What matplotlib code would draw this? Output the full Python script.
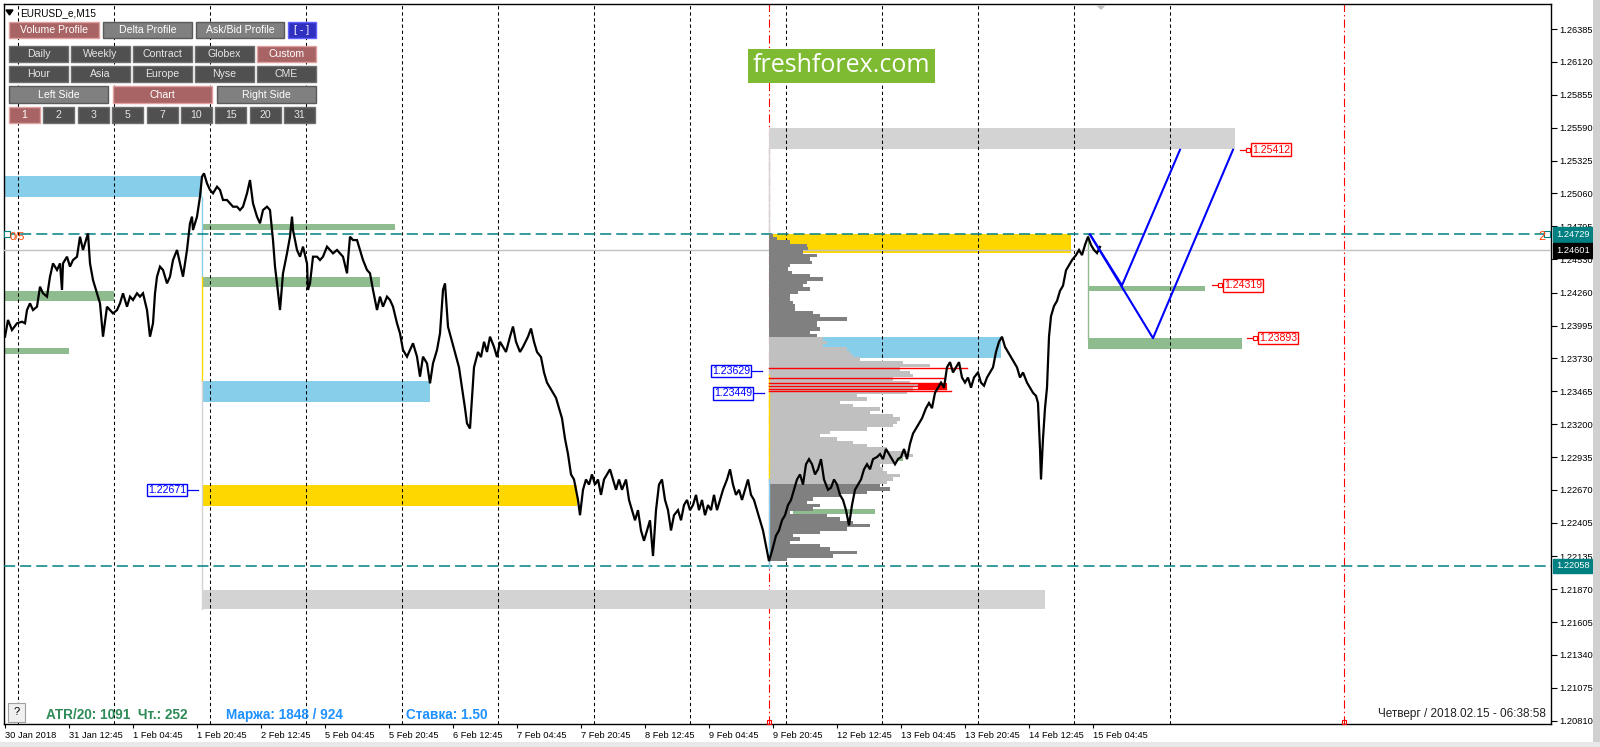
import matplotlib
matplotlib.use("Agg")
import matplotlib.pyplot as plt
import matplotlib.transforms as mtransforms
from matplotlib.patches import Rectangle, Polygon

plt.rcParams['font.family'] = ['Liberation Sans', 'DejaVu Sans']
plt.rcParams['lines.scale_dashes'] = False

# ---------------- data ----------------
symbol = "EURUSD_e,M15"
price_ticks = [1.26385, 1.26120, 1.25855, 1.25590, 1.25325, 1.25060, 1.24795,
               1.24530, 1.24260, 1.23995, 1.23730, 1.23465, 1.23200, 1.22935,
               1.22670, 1.22405, 1.22135, 1.21870, 1.21605, 1.21340, 1.21075, 1.20810]
time_labels = ["30 Jan 2018", "31 Jan 12:45", "1 Feb 04:45", "1 Feb 20:45",
               "2 Feb 12:45", "5 Feb 04:45", "5 Feb 20:45", "6 Feb 12:45",
               "7 Feb 04:45", "7 Feb 20:45", "8 Feb 12:45", "9 Feb 04:45",
               "9 Feb 20:45", "12 Feb 12:45", "13 Feb 04:45", "13 Feb 20:45",
               "14 Feb 12:45", "15 Feb 04:45"]

# close prices (bar index, price)
price_bar = [5, 8, 12, 17, 22, 25, 27, 30, 33, 37, 40, 43, 47, 50, 53, 57, 60, 62, 63, 67,
             70, 73, 77, 80, 83, 88, 90, 93, 97, 100, 103, 107, 110, 113, 117, 120, 123, 127,
             130, 133, 137, 140, 143, 147, 150, 153, 155, 157, 160, 163, 167, 170, 173, 177,
             180, 183, 187, 190, 192, 193, 197, 200, 202, 204, 207, 210, 213, 217, 220, 223,
             227, 230, 233, 237, 240, 243, 247, 250, 253, 257, 260, 263, 267, 270, 273, 275,
             277, 280, 283, 287, 290, 292, 293, 297, 300, 303, 307, 308, 310, 313, 317, 320,
             323, 327, 330, 333, 337, 340, 343, 347, 348, 350, 353, 357, 360, 363, 367, 370,
             373, 377, 380, 383, 387, 390, 393, 397, 400, 403, 407, 410, 413, 417, 420, 423,
             427, 430, 433, 437, 440, 443, 445, 448,
             459, 462, 465, 467, 470, 472, 474, 478, 481, 484, 487, 490, 494, 497, 500, 503,
             506, 510, 513, 516, 520, 523, 528, 531, 534, 537, 541, 544, 547, 550, 553, 556,
             559, 562, 565, 568, 571, 574, 578, 580, 583, 586, 589, 592, 595, 598, 601, 604,
             607, 610, 613, 616, 619, 622, 626, 629, 632, 635, 638, 641, 644, 647, 650, 653,
             656, 659, 662, 665, 668, 671, 674, 678, 681, 684, 687, 690, 693, 696, 699, 702,
             705, 708, 711, 714, 717, 720, 723, 727, 730, 733, 736, 739, 742, 745, 748, 751,
             754, 757, 760, 763, 766, 769, 772, 776, 779, 782, 785, 788, 791, 794, 797, 800,
             803, 806, 809, 812, 815, 818, 821, 824, 828, 831, 834, 837, 840, 843, 846, 849,
             852, 855, 858, 861, 864, 867, 870, 873, 877, 880, 883, 886, 889, 892, 895, 898,
             901, 904, 907, 910, 913, 916, 919, 922, 926, 929, 932, 935, 938, 941, 944, 947,
             950, 953, 956, 959, 962, 965, 968, 971, 974, 978, 981, 984, 987, 990, 993, 996,
             999, 1002, 1005, 1008, 1011, 1014, 1017, 1020, 1023, 1027, 1030, 1033, 1036, 1038,
             1040, 1041, 1043, 1045, 1047, 1049, 1051, 1054, 1057, 1060, 1063, 1066, 1069, 1072,
             1076, 1079, 1082, 1085, 1088, 1091, 1094, 1097, 1100]
price_close = [1.23905, 1.24040, 1.23959, 1.24013, 1.24026, 1.24013, 1.24120, 1.24174, 1.24120,
               1.24147, 1.24308, 1.24255, 1.24228, 1.24389, 1.24496, 1.24443, 1.24496, 1.24282,
               1.24496, 1.24550, 1.24470, 1.24523, 1.24550, 1.24711, 1.24604, 1.24738, 1.24496,
               1.24362, 1.24255, 1.24174, 1.23905, 1.24147, 1.24120, 1.24093, 1.24120, 1.24174,
               1.24255, 1.24147, 1.24228, 1.24201, 1.24255, 1.24228, 1.24255, 1.24120, 1.23905,
               1.24013, 1.24255, 1.24389, 1.24470, 1.24443, 1.24335, 1.24389, 1.24523, 1.24604,
               1.24496, 1.24389, 1.24604, 1.24819, 1.24873, 1.24765, 1.24873, 1.25034, 1.25195,
               1.25222, 1.25141, 1.25088, 1.25061, 1.25114, 1.25088, 1.25007, 1.25007, 1.24980,
               1.24953, 1.24953, 1.24926, 1.24953, 1.25061, 1.25168, 1.24980, 1.24873, 1.24819,
               1.24926, 1.24953, 1.24926, 1.24684, 1.24470, 1.24335, 1.24120, 1.24416, 1.24577,
               1.24711, 1.24873, 1.24765, 1.24604, 1.24550, 1.24631, 1.24496, 1.24282, 1.24335,
               1.24550, 1.24550, 1.24523, 1.24550, 1.24631, 1.24604, 1.24577, 1.24604, 1.24577,
               1.24550, 1.24416, 1.24523, 1.24711, 1.24684, 1.24684, 1.24604, 1.24523, 1.24443,
               1.24416, 1.24282, 1.24120, 1.24228, 1.24147, 1.24228, 1.24201, 1.24147, 1.24013,
               1.23932, 1.23798, 1.23744, 1.23798, 1.23852, 1.23744, 1.23583, 1.23744, 1.23690,
               1.23529, 1.23690, 1.23798, 1.23932, 1.24282, 1.24335, 1.23986,
               1.23658, 1.23494, 1.23329, 1.23206, 1.23165, 1.23412, 1.23658, 1.23782, 1.23741,
               1.23864, 1.23782, 1.23905, 1.23823, 1.23741, 1.23864, 1.23823, 1.23782, 1.23905,
               1.23987, 1.23864, 1.23782, 1.23823, 1.23905, 1.23971, 1.23864, 1.23782, 1.23741,
               1.23617, 1.23535, 1.23494, 1.23453, 1.23412, 1.23329, 1.23247, 1.23083, 1.22959,
               1.22795, 1.22754, 1.22589, 1.22466, 1.22671, 1.22754, 1.22713, 1.22795, 1.22713,
               1.22754, 1.22630, 1.22754, 1.22795, 1.22836, 1.22754, 1.22671, 1.22754, 1.22671,
               1.22754, 1.22589, 1.22507, 1.22425, 1.22507, 1.22343, 1.22260, 1.22343, 1.22425,
               1.22137, 1.22507, 1.22713, 1.22754, 1.22589, 1.22507, 1.22343, 1.22466, 1.22507,
               1.22425, 1.22548, 1.22589, 1.22507, 1.22548, 1.22630, 1.22507, 1.22589, 1.22466,
               1.22548, 1.22507, 1.22630, 1.22507, 1.22589, 1.22671, 1.22754, 1.22836, 1.22713,
               1.22630, 1.22671, 1.22589, 1.22671, 1.22754, 1.22630, 1.22589, 1.22507, 1.22425,
               1.22343, 1.22219, 1.22096, 1.22178, 1.22301, 1.22343, 1.22425, 1.22466, 1.22548,
               1.22589, 1.22671, 1.22754, 1.22795, 1.22713, 1.22877, 1.22918, 1.22877, 1.22795,
               1.22836, 1.22918, 1.22754, 1.22671, 1.22688, 1.22754, 1.22713, 1.22630, 1.22589,
               1.22507, 1.22384, 1.22548, 1.22671, 1.22713, 1.22754, 1.22836, 1.22877, 1.22836,
               1.22918, 1.22935, 1.22959, 1.22918, 1.23000, 1.22959, 1.22918, 1.22877, 1.22918,
               1.22935, 1.23000, 1.22918, 1.23042, 1.23124, 1.23165, 1.23206, 1.23247, 1.23329,
               1.23371, 1.23329, 1.23453, 1.23494, 1.23535, 1.23494, 1.23658, 1.23700, 1.23617,
               1.23658, 1.23700, 1.23576, 1.23535, 1.23576, 1.23494, 1.23576, 1.23617, 1.23535,
               1.23510, 1.23576, 1.23617, 1.23658, 1.23782, 1.23864, 1.23905, 1.23823, 1.23782,
               1.23741, 1.23700, 1.23658, 1.23576, 1.23617, 1.23535, 1.23494, 1.23453, 1.23428,
               1.23371, 1.23000, 1.22754, 1.23083, 1.23329, 1.23494, 1.23905, 1.24070, 1.24152,
               1.24193, 1.24275, 1.24316, 1.24440, 1.24481, 1.24522, 1.24563, 1.24604, 1.24563,
               1.24645, 1.24711, 1.24645, 1.24604, 1.24579, 1.24629]

# rectangles drawn on the chart
zone_start = [4, 202, 202, 202, 4, 4, 202, 202, 769, 769, 769, 1088, 1088, 846, 793]
zone_end = [202, 430, 395, 380, 114, 69, 577, 1045, 1235, 1071, 1001, 1205, 1242, 903, 875]
zone_low = [1.25033, 1.23381, 1.24765, 1.24308, 1.24193, 1.23768, 1.22543, 1.21710,
            1.25418, 1.24582, 1.23736, 1.24276, 1.23806, 1.22906, 1.22478]
zone_high = [1.25200, 1.23550, 1.24813, 1.24386, 1.24273, 1.23814, 1.22710, 1.21863,
             1.25587, 1.24730, 1.23905, 1.24314, 1.23897, 1.22968, 1.22514]
zone_kind = ['blue', 'blue', 'green', 'green', 'green', 'green', 'yellow', 'gray',
             'gray', 'yellow', 'blue', 'green', 'green', 'green', 'green']

# volume profile (from 9 Feb 20:00), row widths in bars, top row first
profile_start = 769
profile_top = 1.24721
profile_step = 0.000269
profile_width = [4, 8, 21, 38, 39, 34, 48, 41, 43, 21, 19, 23, 41, 54, 38, 34, 41, 29, 21, 21,
                 24, 26, 26, 44, 51, 78, 48, 48, 51, 41, 48, 54,
                 58, 54, 78, 81, 84, 91, 134, 161, 131, 141, 144, 124, 141, 164, 144, 138, 88,
                 98, 71, 84, 111, 101, 124, 131, 128, 124, 98, 61, 51, 68, 84, 98, 118, 138,
                 144, 128, 124, 111, 114, 118, 131, 124, 118, 111,
                 121, 98, 71, 44, 38, 51, 44, 21, 58, 71, 84, 101, 78, 51, 24, 31, 21, 51, 61,
                 88, 64, 18]
value_area_high = 1.23905
value_area_low = 1.22710
poc_price = [1.23650, 1.23572, 1.23529, 1.23508, 1.23486, 1.23470]
poc_end = [967, 945, 942, 946, 946, 951]

level_high = 1.24729
level_low = 1.22058
bid_price = 1.24601

proj_bar_a = [1090, 1122, 1180]
proj_price_a = [1.24729, 1.24319, 1.25412]
proj_bar_b = [1090, 1153, 1233]
proj_price_b = [1.24729, 1.23893, 1.25412]

target_price = [1.25412, 1.24319, 1.23893]
target_bar = [1250, 1222, 1257]
marker_price = [1.22671, 1.23629, 1.23449]
marker_bar = [188, 752, 754]

session_bars = [769, 1344]

# ---------------- figure ----------------
W, H, DPI = 1600, 747, 100
fig = plt.figure(figsize=(W / DPI, H / DPI), dpi=DPI)
fig.patch.set_facecolor('white')
AX_L, AX_R, AX_T, AX_B = 4, 1551, 4, 724
ax = fig.add_axes([AX_L / W, 1 - AX_B / H, (AX_R - AX_L) / W, (AX_B - AX_T) / H])
ax.set_xlim(AX_L, AX_R)
ax.set_ylim(1.20783, 1.26587)
ax.set_facecolor('white')
for s in ax.spines.values():
    s.set_color('black')
    s.set_linewidth(1.0)

colors = {'blue': '#87CEEB', 'green': '#8FBC8F', 'yellow': '#FFD700', 'gray': '#D3D3D3'}

# red session separators
for b in session_bars:
    ax.axvline(b, color='red', lw=0.8, ls=(0, (6, 2.2, 1, 2.2)), zorder=1)
    ax.plot([b], [1.20800], marker='s', ms=3, mfc='none', mec='red', mew=0.8,
            clip_on=False, zorder=6)

# zones
for s0, s1, lo, hi, k in zip(zone_start, zone_end, zone_low, zone_high, zone_kind):
    ax.add_patch(Rectangle((s0, lo), s1 - s0, hi - lo, fc=colors[k], ec='none', zorder=2))

# vertical anchor segments
ax.plot([202, 202], [1.25033, 1.24386], color='#87CEEB', lw=1, zorder=2)
ax.plot([202, 202], [1.24386, 1.23550], color='#FFD700', lw=1, zorder=2)
ax.plot([202, 202], [1.23550, 1.21710], color='#D3D3D3', lw=1, zorder=2)
ax.plot([769, 769], [1.25418, 1.24730], color='#D3D3D3', lw=1, zorder=2)
ax.plot([769, 769], [1.23600, 1.22760], color='#FFD700', lw=1, zorder=4)
ax.plot([769, 769], [1.22760, 1.22040], color='#87CEEB', lw=1, zorder=4)
ax.plot([1088, 1088], [1.24729, 1.23897], color='#8FBC8F', lw=1, zorder=2)

# profile histogram
rows = [profile_top - i * profile_step for i in range(len(profile_width))]
row_cols = ['#C0C0C0' if value_area_low < p < value_area_high else '#808080' for p in rows]
ax.barh(rows, profile_width, left=profile_start, height=profile_step,
        color=row_cols, zorder=3, linewidth=0)
for p, e in zip(poc_price, poc_end):
    ax.plot([profile_start, e], [p, p], color='red', lw=1.0, zorder=4)
ax.add_patch(Rectangle((918, 1.23478), 29, 0.00050, fc='red', ec='none', zorder=4))

# day grid
for b in range(18, 1171, 96):
    ax.axvline(b, color='black', lw=0.75, ls=(0, (2.4, 2.0)), zorder=2.5)

# horizontal levels
ax.axhline(bid_price, color='#C0C0C0', lw=1.0, zorder=2.6)
for lv in (level_high, level_low):
    ax.axhline(lv, color='#008080', lw=1.1, ls=(0, (8, 3.6)), zorder=2.7)
ax.plot([7, 1547], [level_high, level_high], ls='none', marker='s', ms=4, mfc='white',
        mec='#008080', mew=0.8, zorder=5)
ax.text(10, level_high - 0.00022, "0/5", color='#FF4500', fontsize=8, va='center', ha='left',
        zorder=6)
ax.text(1545, level_high - 0.00022, "2", color='#FF4500', fontsize=9, va='center', ha='right',
        zorder=6)

# price line
ax.plot(price_bar, price_close, color='black', lw=1.6, zorder=5, solid_joinstyle='miter')

# projection
ax.plot(proj_bar_a, proj_price_a, color='#0000FF', lw=1.5, zorder=5)
ax.plot(proj_bar_b, proj_price_b, color='#0000FF', lw=1.5, zorder=5)

# target labels (red)
for p, b in zip(target_price, target_bar):
    ax.plot([b - 10, b - 2], [p, p], color='red', lw=0.9, zorder=6)
    ax.plot([b - 2], [p], marker='s', ms=3, mfc='white', mec='red', mew=0.8, zorder=6)
    ax.text(b + 2, p, f"{p:.5f}", color='red', fontsize=7.6, ha='left', va='center', zorder=7,
            bbox=dict(boxstyle='square,pad=0.12', fc='white', ec='red', lw=1.0))
# marker labels (blue)
for p, b in zip(marker_price, marker_bar):
    ax.plot([b, b + 10], [p, p], color='#0000FF', lw=0.9, zorder=6)
    ax.text(b - 2, p, f"{p:.5f}", color='#0000FF', fontsize=7.6, ha='right', va='center',
            zorder=7, bbox=dict(boxstyle='square,pad=0.12', fc='white', ec='#0000FF', lw=1.0))

# axes ticks
ax.yaxis.tick_right()
ax.set_yticks(price_ticks)
ax.set_yticklabels([f"{v:.5f}" for v in price_ticks])
ax.tick_params(axis='y', direction='out', length=4, width=0.8, pad=2, labelsize=6.7,
               colors='black')
ax.set_xticks([5 + 64 * i for i in range(len(time_labels))])
ax.set_xticklabels(time_labels)
ax.tick_params(axis='x', direction='out', length=3, width=0.8, pad=2, labelsize=6.7)
for lab in ax.get_xticklabels():
    lab.set_horizontalalignment('left')

# highlighted price labels on the scale
blend = mtransforms.blended_transform_factory(ax.transAxes, ax.transData)
xr = 1 + 5 / (AX_R - AX_L)
for p, bg in ((level_high, '#008080'), (bid_price, '#000000'), (level_low, '#008080')):
    ax.text(xr, p, f"{p:.5f}", transform=blend, color='white', fontsize=6.7, ha='left',
            va='center', zorder=10, clip_on=False,
            bbox=dict(boxstyle='square,pad=0.3', fc=bg, ec=bg))

# ---------------- overlays in pixel space ----------------
def fx(x):
    return x / W

def fy(y):
    return 1 - y / H

def rect(x0, y0, x1, y1, fc, ec='none', lw=0.0):
    fig.add_artist(Rectangle((fx(x0), fy(y1)), (x1 - x0) / W, (y1 - y0) / H,
                             transform=fig.transFigure, fc=fc, ec=ec, lw=lw))

# scrollbar / bottom band
rect(1593, 0, 1600, 747, '#D0D0D0')
rect(0, 742, 1600, 747, '#E8E8E8')

# title
fig.add_artist(Polygon([(fx(6), fy(10)), (fx(13), fy(10)), (fx(9.5), fy(15))], closed=True,
                       transform=fig.transFigure, fc='black', ec='black'))
fig.text(fx(20), fy(13), symbol, fontsize=7.2, va='center', ha='left', color='black')
# MT4 shift marker
fig.add_artist(Polygon([(fx(1096), fy(5)), (fx(1106), fy(5)), (fx(1101), fy(10))], closed=True,
                       transform=fig.transFigure, fc='#C0C0C0', ec='none'))

styles = {
    'red': ('#A86464', '#E0A0A0', 'white'),
    'gray': ('#808080', '#5A5A5A', 'white'),
    'dark': ('#505050', '#6E6E6E', '#E6E6E6'),
    'blue': ('#3030C0', '#6060FF', 'white'),
}

def button(x0, y0, x1, y1, label, st):
    fc, ec, tc = styles[st]
    rect(x0, y0, x1, y1, fc, ec, 1.0)
    fig.text(fx((x0 + x1) / 2), fy((y0 + y1) / 2), label, color=tc, fontsize=7.6,
             ha='center', va='center')

button(9, 22, 99, 38, "Volume Profile", 'red')
button(103, 22, 192, 38, "Delta Profile", 'gray')
button(196, 22, 284, 38, "Ask/Bid Profile", 'gray')
button(288, 22, 316, 38, "[ - ]", 'blue')
row2 = ["Daily", "Weekly", "Contract", "Globex", "Custom"]
row3 = ["Hour", "Asia", "Europe", "Nyse", "CME"]
for i, t in enumerate(row2):
    x0 = 9 + i * 62
    button(x0, 46, x0 + 59, 62, t, 'red' if t == "Custom" else 'dark')
for i, t in enumerate(row3):
    x0 = 9 + i * 62
    button(x0, 66, x0 + 59, 82, t, 'dark')
button(9, 86, 108, 103, "Left Side", 'gray')
button(113, 86, 212, 103, "Chart", 'red')
button(217, 86, 316, 103, "Right Side", 'gray')
row5 = ["1", "2", "3", "5", "7", "10", "15", "20", "31"]
for i, t in enumerate(row5):
    x0 = 9 + i * 34.4
    button(x0, 107, x0 + 31, 123, t, 'red' if t == "1" else 'dark')

# freshforex badge
rect(748, 49, 935, 83, '#7EBB33')
fig.text(fx(841), fy(66), "freshforex.com", color='white', fontsize=18, ha='center',
         va='center', family=['Open Sans', 'DejaVu Sans'])

# bottom info line
rect(8, 703, 25, 722, '#F0F0F0', '#A0A0A0', 0.8)
fig.text(fx(16.5), fy(712), "?", fontsize=8, ha='center', va='center', color='black')
fig.text(fx(46), fy(715), "ATR/20: 1091  Чт.: 252", color='#2E8B57', fontsize=9.8,
         fontweight='bold', ha='left', va='center')
fig.text(fx(226), fy(715), "Маржа: 1848 / 924", color='#1E90FF', fontsize=9.8,
         fontweight='bold', ha='left', va='center')
fig.text(fx(406), fy(715), "Ставка: 1.50", color='#1E90FF', fontsize=9.8,
         fontweight='bold', ha='left', va='center')
fig.text(fx(1546), fy(714), "Четверг / 2018.02.15 - 06:38:58", color='#202020', fontsize=8.5,
         ha='right', va='center')

fig.savefig("out.png", dpi=DPI, facecolor='white')
